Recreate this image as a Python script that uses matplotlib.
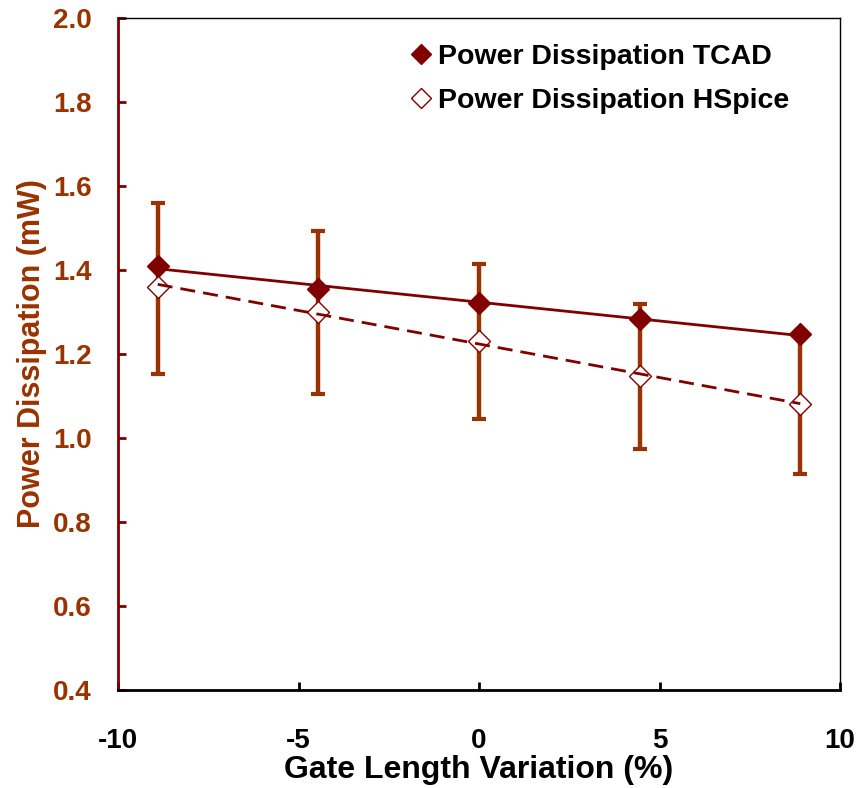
import numpy as np
import matplotlib
matplotlib.use("Agg")
import matplotlib.pyplot as plt
from matplotlib.lines import Line2D

# Data
x_vals = [-8.9, -4.45, 0.0, 4.45, 8.9]
tcad = [1.410, 1.355, 1.322, 1.283, 1.247]
hspice = [1.359, 1.300, 1.232, 1.148, 1.080]
err_low = [1.152, 1.105, 1.045, 0.975, 0.915]
err_high = [1.560, 1.494, 1.414, 1.320, 1.245]
x_ticks = [-10, -5, 0, 5, 10]
y_ticks = [0.4, 0.6, 0.8, 1.0, 1.2, 1.4, 1.6, 1.8, 2.0]

DARK_RED = "#800000"
BROWN = "#993300"

plt.rcParams['font.family'] = ['Liberation Sans', 'DejaVu Sans']
plt.rcParams['font.weight'] = 'bold'

fig = plt.figure(figsize=(8.59, 7.88), dpi=100)
ax = fig.add_axes([118/859, 1 - 690/788, (840-118)/859, (690-18)/788])

x = np.array(x_vals)
yh = np.array(hspice)
lo = yh - np.array(err_low)
hi = np.array(err_high) - yh

ax.errorbar(x, yh, yerr=[lo, hi], fmt='none', ecolor=BROWN, elinewidth=3.2,
            capsize=4.8, capthick=3.0, zorder=2)

ax.plot(x, tcad, linestyle='none', marker='D', ms=11.5, mfc=DARK_RED,
        mec=DARK_RED, zorder=3)
ax.plot(x, hspice, linestyle='none', marker='D', ms=11, mfc='white',
        mec=DARK_RED, mew=1.0, zorder=3)

# Linear trendlines (as in the original spreadsheet chart)
xs = np.array([x.min(), x.max()])
p1 = np.polyfit(x, tcad, 1)
p2 = np.polyfit(x, hspice, 1)
ax.plot(xs, np.polyval(p1, xs), color=DARK_RED, lw=2.0, zorder=4)
ax.plot(xs, np.polyval(p2, xs), color=DARK_RED, lw=2.0, dashes=(5.4, 2.9), zorder=4)

ax.set_xlim(-10, 10)
ax.set_ylim(0.4, 2.0)
ax.set_xticks(x_ticks)
ax.set_xticklabels([str(t) for t in x_ticks])
ax.set_yticks(y_ticks)
ax.set_yticklabels([f"{t:.1f}" for t in y_ticks])

ax.spines['left'].set_color(DARK_RED)
ax.spines['left'].set_linewidth(2.0)
ax.spines['bottom'].set_color('black')
ax.spines['bottom'].set_linewidth(2.0)
ax.spines['top'].set_color('black')
ax.spines['top'].set_linewidth(1.0)
ax.spines['right'].set_color('black')
ax.spines['right'].set_linewidth(1.0)

ax.tick_params(axis='y', direction='in', length=5.5, width=2.0, color=DARK_RED,
               labelcolor=BROWN, labelsize=20, pad=19)
ax.tick_params(axis='x', direction='in', length=5.5, width=2.0, color='black',
               labelcolor='black', labelsize=20, pad=27)
for lab in ax.get_xticklabels() + ax.get_yticklabels():
    lab.set_fontweight('bold')

ax.set_xlabel("Gate Length Variation (%)", fontsize=23, fontweight='bold',
              color='black', labelpad=1)
ax.set_ylabel("Power Dissipation (mW)", fontsize=22, fontweight='bold',
              color=BROWN, labelpad=4)

handles = [
    Line2D([], [], linestyle='none', marker='D', ms=10, mfc=DARK_RED, mec=DARK_RED),
    Line2D([], [], linestyle='none', marker='D', ms=10, mfc='white', mec=DARK_RED, mew=1.0),
]
ax.legend(handles, ["Power Dissipation TCAD", "Power Dissipation HSpice"],
          loc='upper left', bbox_to_anchor=(0.368, 0.999), frameon=False,
          prop={'size': 20.5, 'weight': 'bold'}, handlelength=0.8,
          handletextpad=0.2, labelspacing=0.62)

fig.savefig("out.png", dpi=100)
